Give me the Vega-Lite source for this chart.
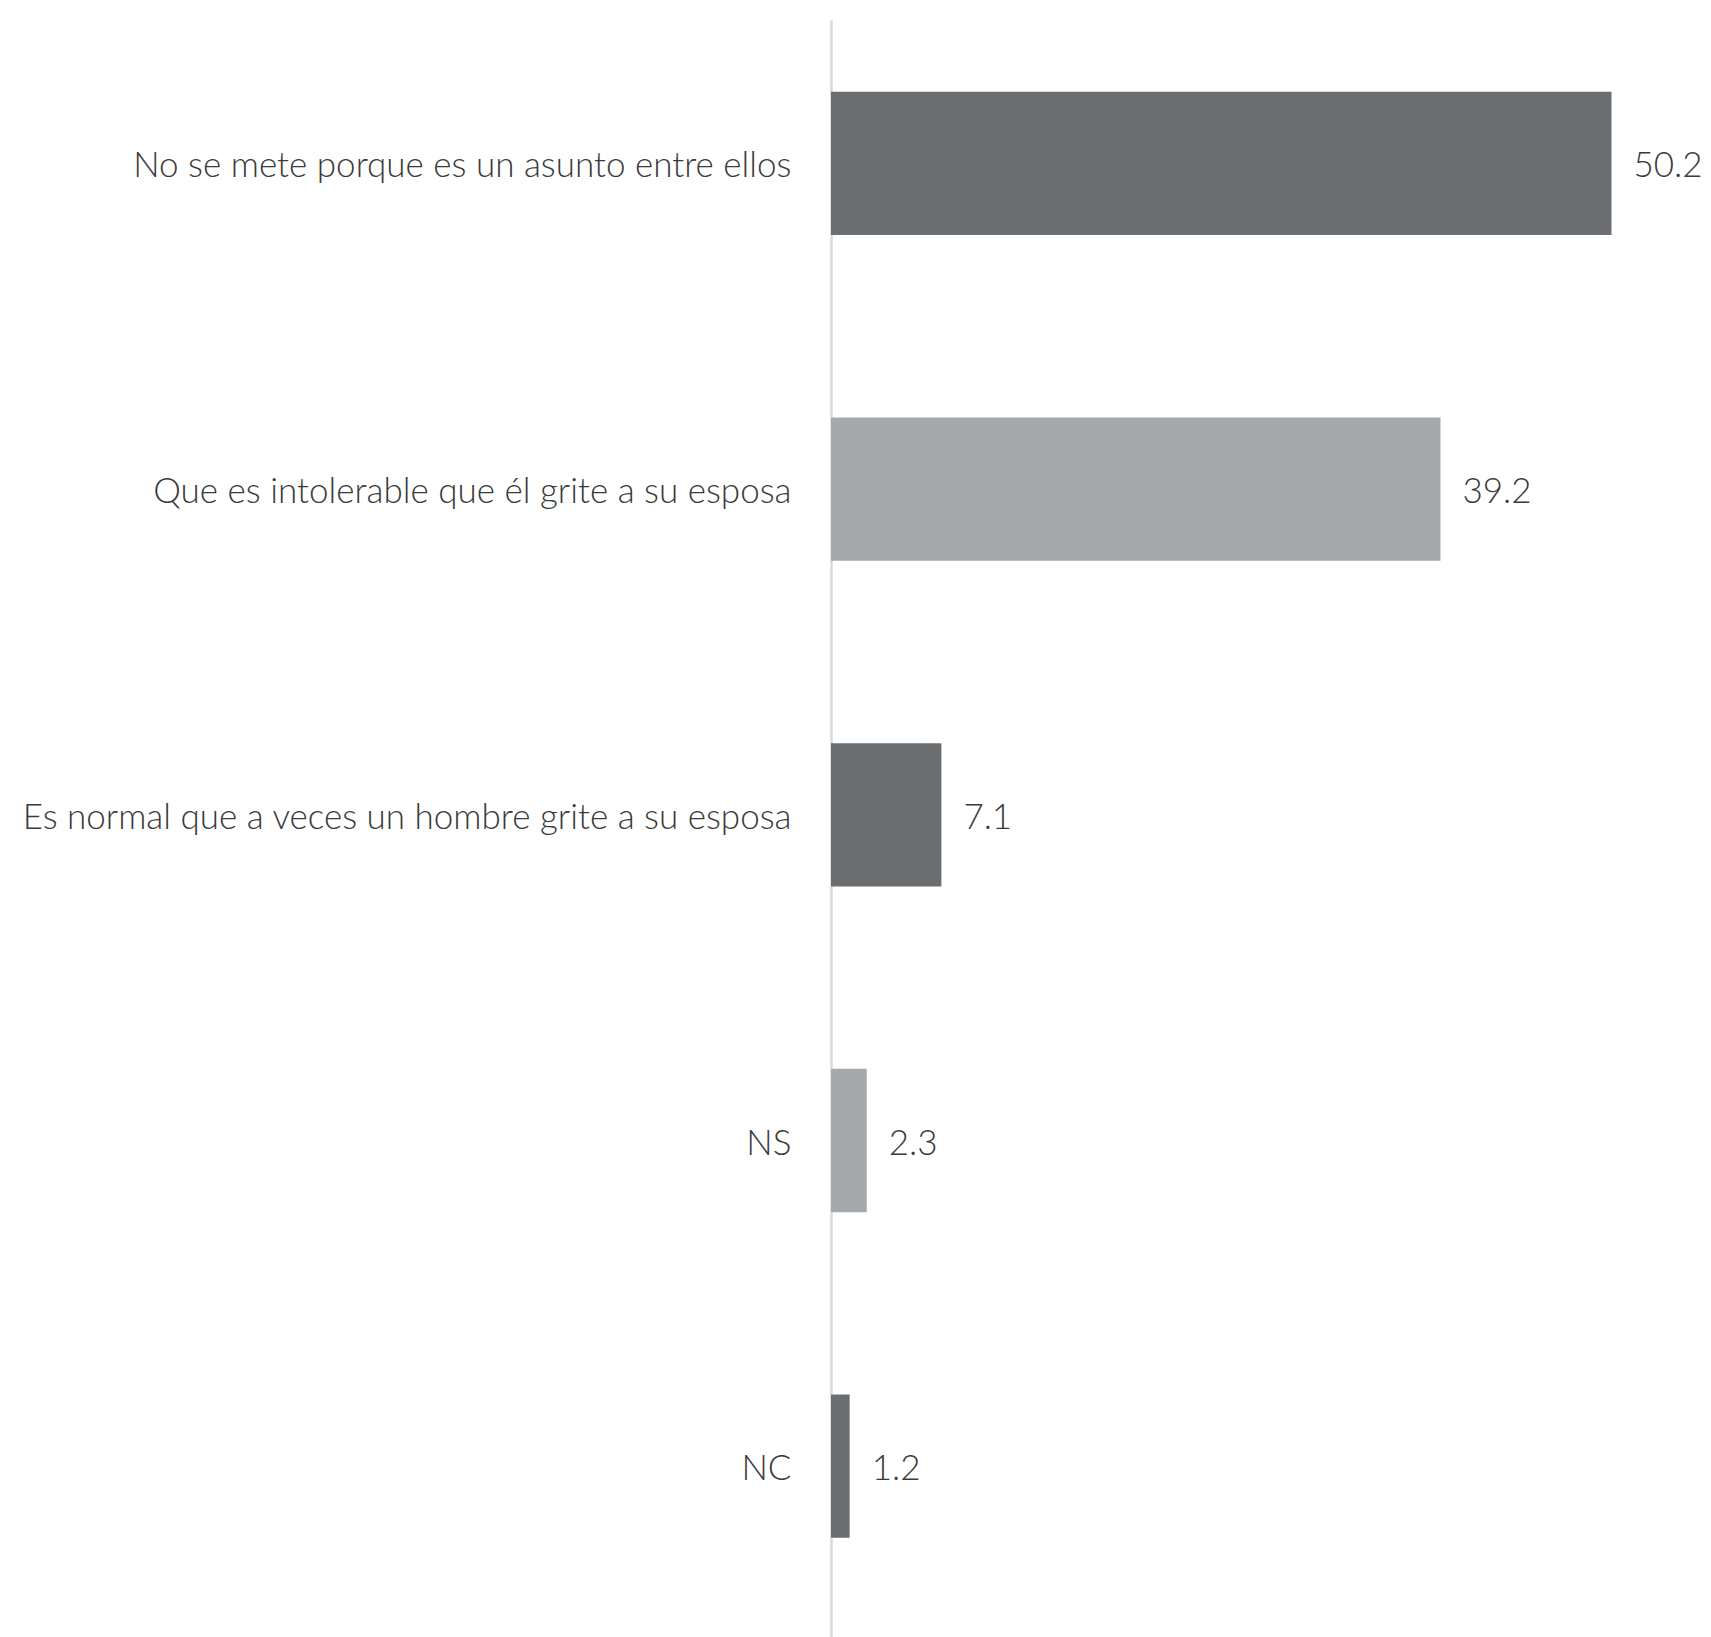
{
  "$schema": "https://vega.github.io/schema/vega-lite/v6.json",
  "autosize": "none",
  "padding": {"left": 831, "top": 20, "right": 0, "bottom": 0},
  "width": 880,
  "height": 1617,
  "background": "white",
  "config": {"view": {"stroke": null}},
  "data": {
    "values": [
      {"cat": "No se mete porque es un asunto entre ellos", "val": 50.2, "shade": "dark"},
      {"cat": "Que es intolerable que él grite a su esposa", "val": 39.2, "shade": "light"},
      {"cat": "Es normal que a veces un hombre grite a su esposa", "val": 7.1, "shade": "dark"},
      {"cat": "NS", "val": 2.3, "shade": "light"},
      {"cat": "NC", "val": 1.2, "shade": "dark"}
    ]
  },
  "encoding": {
    "y": {
      "field": "cat",
      "type": "nominal",
      "sort": null,
      "title": null,
      "scale": {"paddingInner": 0.56, "paddingOuter": 0.2625, "align": 0.42},
      "axis": {
        "ticks": false,
        "domain": true,
        "domainColor": "#d9d9d9",
        "domainWidth": 2.5,
        "labelFont": "Lato",
        "labelFontWeight": 300,
        "labelFontSize": 35,
        "labelColor": "#3a3a3a",
        "labelPadding": 40,
        "labelOffset": 3,
        "labelLimit": 900,
        "grid": false
      }
    },
    "x": {
      "field": "val",
      "type": "quantitative",
      "scale": {"domain": [0, 56.6], "nice": false},
      "axis": null
    }
  },
  "layer": [
    {
      "mark": {"type": "bar"},
      "encoding": {
        "color": {
          "field": "shade",
          "type": "nominal",
          "scale": {"domain": ["dark", "light"], "range": ["#6b6e71", "#a6a9ac"]},
          "legend": null
        }
      }
    },
    {
      "mark": {"type": "text", "align": "left", "baseline": "middle", "dx": 22, "dy": 3, "font": "Lato", "fontWeight": 300, "fontSize": 35, "color": "#3a3a3a"},
      "encoding": {
        "text": {"field": "val", "type": "quantitative", "format": ".1f"}
      }
    }
  ]
}
